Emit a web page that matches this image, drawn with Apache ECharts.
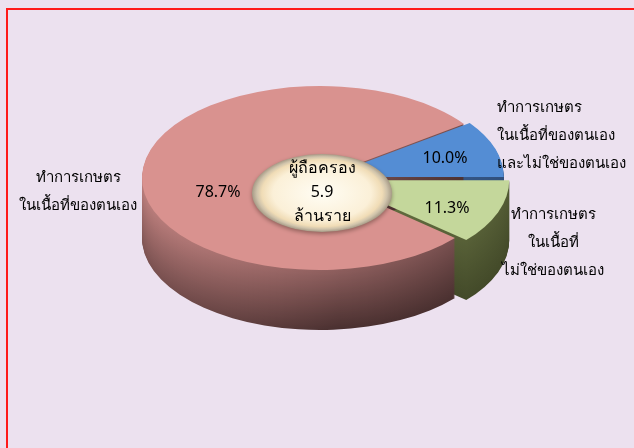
<!DOCTYPE html>
<html>
<head>
<meta charset="utf-8">
<script src="https://cdn.jsdelivr.net/npm/echarts@6/dist/echarts.min.js"></script>
<style>
  html, body { margin: 0; padding: 0; background: #ece1ef; }
  #chart { width: 634px; height: 448px; }
</style>
</head>
<body>
<div id="chart"></div>
<script>
  // ข้อมูล (เรียงตามเข็มนาฬิกา เริ่มจากแนวนอนด้านขวา)
  const categories = ['ไม่ใช่ของตนเอง', 'ของตนเอง', 'ของตนเองและไม่ใช่ของตนเอง'];
  const shares = [11.3, 78.7, 10.0];
  const holders = 5.9; // ล้านราย

  // สีของแต่ละชิ้น
  const topColors = ['#c4d79b', '#d9928f', '#548dd4'];
  const sideLight = ['#6f7a48', '#c88785', '#4a78b8'];
  const sideDark = ['#434a29', '#4a3030', '#223a5c'];
  const sideOrder = [1, 2, 0]; // ลำดับการวาดด้านข้าง (มากกว่า = อยู่บน)

  // ตำแหน่ง/ขนาดของพาย
  const CX = 320, CY = 178, RX = 178, RY = 92, DEPTH = 60;
  const K = RY / RX;
  const explode = [12, 0, 6];
  const labelPos = [[447, 208], [218, 192], [445, 158]];
  const FONT = 'Tahoma, "Noto Sans", "DejaVu Sans", sans-serif';

  const total = shares.reduce((a, b) => a + b, 0);

  function angles(i) {
    let s = 0;
    for (let j = 0; j < i; j++) s += shares[j];
    return [s / total * Math.PI * 2, (s + shares[i]) / total * Math.PI * 2];
  }

  function offset(i) {
    const [a0, a1] = angles(i);
    const mid = (a0 + a1) / 2;
    return [explode[i] * Math.cos(mid), explode[i] * Math.sin(mid) * K];
  }

  function mix(c1, c2, t) {
    const p = c => [1, 3, 5].map(k => parseInt(c.substr(k, 2), 16));
    const a = p(c1), b = p(c2);
    return 'rgb(' + a.map((v, k) => Math.round(v + (b[k] - v) * t)).join(',') + ')';
  }

  function renderSide(params, api) {
    const i = params.dataIndex;
    const [a0, a1] = angles(i);
    const [dx, dy] = offset(i);
    const children = [];
    for (let k = DEPTH; k >= 1; k--) {
      const t = k / DEPTH;
      children.push({
        type: 'sector',
        z2: sideOrder[i] * 100 + (DEPTH - k),
        shape: { cx: CX, cy: CY, r: RX, r0: 0, startAngle: a0, endAngle: a1 },
        originX: CX, originY: CY, scaleY: K,
        x: dx, y: dy + k,
        silent: true,
        style: {
          fill: new echarts.graphic.LinearGradient(0, 0, 1, 0, [
            { offset: 0, color: mix(sideLight[i], sideDark[i], 0.1 + t * 0.5) },
            { offset: 0.6, color: mix(sideLight[i], sideDark[i], 0.45 + t * 0.55) },
            { offset: 1, color: mix(sideLight[i], sideDark[i], 0.65 + t * 0.35) }
          ])
        }
      });
    }
    return { type: 'group', children: children };
  }

  function renderTop(params, api) {
    const i = params.dataIndex;
    const [a0, a1] = angles(i);
    const [dx, dy] = offset(i);
    return {
      type: 'group',
      children: [{
        type: 'sector',
        shape: { cx: CX, cy: CY, r: RX, r0: 0, startAngle: a0, endAngle: a1 },
        originX: CX, originY: CY, scaleY: K,
        x: dx, y: dy,
        style: { fill: topColors[i] }
      }, {
        type: 'text',
        z2: 5,
        x: labelPos[i][0], y: labelPos[i][1],
        style: {
          text: api.value(0).toFixed(1) + '%',
          fill: '#000', font: '16px ' + FONT,
          align: 'center', verticalAlign: 'middle'
        }
      }]
    };
  }

  let myChart = echarts.init(document.getElementById('chart'));
  let option = {
    backgroundColor: '#ece1ef',
    animation: false,
    series: [
      {
        type: 'custom',
        coordinateSystem: 'none',
        renderItem: renderSide,
        data: shares.map(v => [v]),
        z: 1
      },
      {
        type: 'custom',
        coordinateSystem: 'none',
        renderItem: renderTop,
        data: shares.map(v => [v]),
        z: 2
      }
    ],
    graphic: [
      {
        type: 'rect', z: 0,
        shape: { x: 7, y: 9, width: 700, height: 500 },
        style: { fill: 'none', stroke: '#ff1a1a', lineWidth: 2 }
      },
      {
        type: 'circle', z: 10,
        shape: { cx: 322, cy: 193, r: 70 },
        originX: 322, originY: 193, scaleY: 39 / 70,
        style: {
          fill: new echarts.graphic.RadialGradient(0.5, 0.5, 0.5, [
            { offset: 0, color: '#fffdf4' },
            { offset: 0.7, color: '#fbf0d8' },
            { offset: 0.86, color: '#f0dcb6' },
            { offset: 0.93, color: '#cfc3ab' },
            { offset: 1, color: '#a69a86' }
          ]),
          shadowBlur: 4, shadowColor: 'rgba(60,40,30,0.45)', shadowOffsetY: 2
        }
      },
      {
        type: 'text', z: 11,
        x: 322, y: 192,
        style: {
          text: 'ผู้ถือครอง\n' + holders.toFixed(1) + '\nล้านราย',
          font: '16px ' + FONT, lineHeight: 24, fill: '#000',
          align: 'center', verticalAlign: 'middle'
        }
      },
      {
        type: 'text', z: 11,
        x: 78, y: 192,
        style: {
          text: 'ทำการเกษตร\nในเนื้อที่' + categories[1],
          font: '15px ' + FONT, lineHeight: 28, fill: '#000',
          align: 'center', verticalAlign: 'middle'
        }
      },
      {
        type: 'text', z: 11,
        x: 497, y: 136,
        style: {
          text: 'ทำการเกษตร\nในเนื้อที่ของตนเอง\nและไม่ใช่ของตนเอง',
          font: '15px ' + FONT, lineHeight: 28, fill: '#000',
          align: 'left', verticalAlign: 'middle'
        }
      },
      {
        type: 'text', z: 11,
        x: 553, y: 243,
        style: {
          text: 'ทำการเกษตร\nในเนื้อที่\n' + categories[0],
          font: '15px ' + FONT, lineHeight: 28, fill: '#000',
          align: 'center', verticalAlign: 'middle'
        }
      }
    ]
  };
  myChart.setOption(option);
</script>
</body>
</html>
